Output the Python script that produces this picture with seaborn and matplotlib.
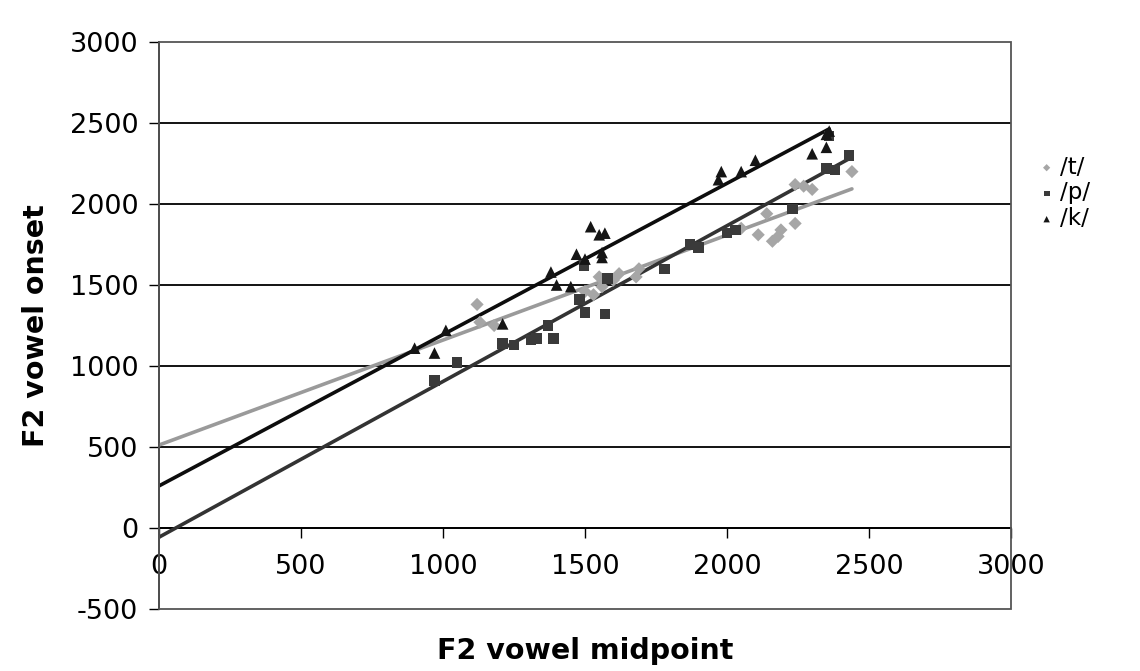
import numpy as np
import pandas as pd
import matplotlib
matplotlib.use("Agg")
import matplotlib.pyplot as plt
from matplotlib.patches import Rectangle
import seaborn as sns

# ---------------- data ----------------
t_x = [1120, 1130, 1180, 1500, 1530, 1550, 1560, 1600, 1620, 1680, 1690,
       2050, 2110, 2140, 2160, 2180, 2190, 2240, 2240, 2270, 2300, 2440]
t_y = [1380, 1270, 1250, 1460, 1440, 1550, 1490, 1530, 1570, 1550, 1600,
       1850, 1810, 1940, 1770, 1800, 1840, 1880, 2120, 2110, 2090, 2200]

p_x = [970, 1050, 1210, 1250, 1310, 1330, 1370, 1390, 1480, 1496, 1500,
       1570, 1580, 1780, 1870, 1900, 2000, 2030, 2230, 2350, 2360, 2380, 2430]
p_y = [910, 1020, 1140, 1130, 1160, 1170, 1250, 1170, 1410, 1620, 1330,
       1320, 1540, 1600, 1750, 1730, 1820, 1840, 1970, 2220, 2420, 2210, 2300]

k_x = [900, 970, 1010, 1210, 1380, 1400, 1450, 1470, 1500, 1520, 1550,
       1560, 1570, 1560, 1970, 1980, 2050, 2100, 2300, 2350, 2350, 2360]
k_y = [1110, 1080, 1220, 1260, 1580, 1500, 1490, 1690, 1660, 1860, 1810,
       1700, 1820, 1670, 2150, 2200, 2200, 2270, 2310, 2350, 2430, 2450]

series = ["/t/", "/p/", "/k/"]
x_ticks = [0, 500, 1000, 1500, 2000, 2500, 3000]
y_ticks = [-500, 0, 500, 1000, 1500, 2000, 2500, 3000]

df = pd.concat([
    pd.DataFrame({"mid": t_x, "onset": t_y, "stop": "/t/"}),
    pd.DataFrame({"mid": p_x, "onset": p_y, "stop": "/p/"}),
    pd.DataFrame({"mid": k_x, "onset": k_y, "stop": "/k/"}),
])

marker_map = {"/t/": "D", "/p/": "s", "/k/": "^"}
point_col = {"/t/": "#a6a6a6", "/p/": "#3a3a3a", "/k/": "#151515"}
line_col = {"/t/": "#9a9a9a", "/p/": "#333333", "/k/": "#0d0d0d"}
msize = {"/t/": 45, "/p/": 58, "/k/": 70}

# ---------------- plot ----------------
sns.set_style("white")
plt.rcParams["font.family"] = ["DejaVu Sans"]
plt.rcParams["axes.unicode_minus"] = False
plt.rcParams["text.color"] = "black"
plt.rcParams["axes.labelcolor"] = "black"
plt.rcParams["xtick.color"] = "black"
plt.rcParams["ytick.color"] = "black"

fig = plt.figure(figsize=(11.4, 6.71), dpi=100)
ax = fig.add_axes([0.1395, 0.0924, 0.7473, 0.845])

# trend lines (least squares, drawn from x=0 to the last point)
for s in series:
    sub = df[df["stop"] == s]
    b, a = np.polyfit(sub["mid"], sub["onset"], 1)
    xs = np.array([0, sub["mid"].max()])
    ax.plot(xs, a + b * xs, color=line_col[s], lw=2.6, zorder=3)

for s in series:
    sub = df[df["stop"] == s]
    sns.scatterplot(data=sub, x="mid", y="onset", marker=marker_map[s],
                    color=point_col[s], s=msize[s], edgecolor="none",
                    label=s, ax=ax, zorder=4)

ax.set_xlim(0, 3000)
ax.set_ylim(-500, 3000)
ax.set_xticks(x_ticks)
ax.set_yticks(y_ticks)

# horizontal gridlines
for v in y_ticks[1:-1]:
    ax.axhline(v, color="black", lw=1.3, zorder=1)

# x axis crosses at y = 0
ax.spines["bottom"].set_position(("data", 0))
ax.spines["bottom"].set_color("black")
ax.spines["bottom"].set_linewidth(1.3)
ax.spines["left"].set_color("black")
ax.spines["left"].set_linewidth(1.3)
ax.spines["top"].set_visible(False)
ax.spines["right"].set_visible(False)
ax.add_patch(Rectangle((0, 0), 1, 1, transform=ax.transAxes, fill=False,
                       edgecolor="#555555", lw=1.3, zorder=5, clip_on=False))

ax.tick_params(axis="x", direction="out", length=7, width=1, pad=12,
               labelsize=19.5, bottom=True)
ax.tick_params(axis="y", direction="out", length=7, width=1, pad=8,
               labelsize=19.5, left=True)

ax.set_xlabel("F2 vowel midpoint", fontsize=20.5, fontweight="bold")
ax.set_ylabel("F2 vowel onset", fontsize=20.5, fontweight="bold")
ax.xaxis.set_label_coords(0.5, -0.05)
ax.yaxis.set_label_coords(-0.128, 0.5)

handles, labels = ax.get_legend_handles_labels()
ax.legend(handles, labels, loc="upper left", bbox_to_anchor=(0.898, 0.785),
          bbox_transform=fig.transFigure, frameon=False, fontsize=16.5,
          handletextpad=0.1, labelspacing=0.12, markerscale=0.55,
          borderpad=0, handlelength=1.0)

fig.savefig("out.png", dpi=100)
